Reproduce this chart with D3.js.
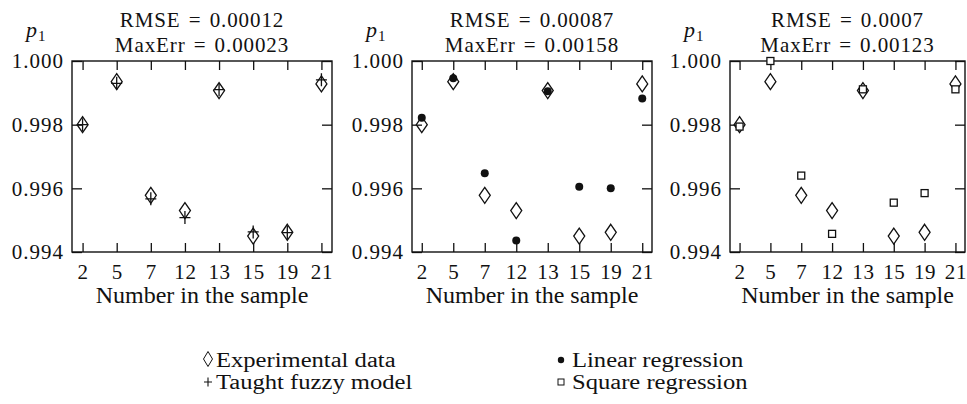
<!DOCTYPE html>
<html>
<head>
<meta charset="utf-8">
<script src="https://cdn.jsdelivr.net/npm/d3@7"></script>
<style>
  body { margin: 0; background: #fff; }
  svg text { font-family: "Liberation Serif", "DejaVu Serif", serif !important; fill: #111; }
</style>
</head>
<body>
<div id="chart"></div>
<script>
// sample numbers on the x axis
var samples = ["2", "5", "7", "12", "13", "15", "19", "21"];
var yTicks = [0.994, 0.996, 0.998, 1.000];

// values
var experimental = [0.9980, 0.99935, 0.99578, 0.99530, 0.99907, 0.99450, 0.99462, 0.99928];
var fuzzyModel   = [0.9980, 0.99930, 0.99567, 0.99508, 0.99910, 0.99463, 0.99461, 0.99941];
var linearReg    = [0.99822, 0.99946, 0.99647, 0.99436, 0.99905, 0.99605, 0.99600, 0.99882];
var squareReg    = [0.99794, 1.00000, 0.99640, 0.99457, 0.99911, 0.99555, 0.99585, 0.99911];

var rmseLabels   = ["RMSE = 0.00012", "RMSE = 0.00087", "RMSE = 0.0007"];
var maxErrLabels = ["MaxErr = 0.00023", "MaxErr = 0.00158", "MaxErr = 0.00123"];
var modelSeries  = ["fuzzy", "linear", "square"];

var W = 967, H = 404;
var plotTop = 61, plotBottom = 252;
var boxLeft = [72, 412, 730],
    boxRight = [332, 652, 965];
var serif = '"Liberation Serif", "DejaVu Serif", serif';

var svg = d3.select("#chart")
  .append("svg")
    .attr("width", W)
    .attr("height", H)
    .style("font-family", serif);

var y = d3.scaleLinear()
    .domain([0.994, 1.000])
    .range([plotBottom, plotTop]);

function diamond(g, cx, cy, hw, hh, sw) {
  g.append("path")
    .attr("d", "M" + cx + "," + (cy - hh) + "L" + (cx + hw) + "," + cy +
               "L" + cx + "," + (cy + hh) + "L" + (cx - hw) + "," + cy + "Z")
    .attr("fill", "none")
    .attr("stroke", "#111")
    .attr("stroke-width", sw);
}
function plus(g, cx, cy, hw, hh, sw) {
  g.append("path")
    .attr("d", "M" + (cx - hw) + "," + cy + "H" + (cx + hw) + "M" + cx + "," + (cy - hh) + "V" + (cy + hh))
    .attr("stroke", "#111")
    .attr("stroke-width", sw);
}
function dot(g, cx, cy, r) {
  g.append("circle").attr("cx", cx).attr("cy", cy).attr("r", r).attr("fill", "#111");
}
function square(g, cx, cy, s, sw) {
  g.append("rect")
    .attr("x", cx - s / 2).attr("y", cy - s / 2)
    .attr("width", s).attr("height", s)
    .attr("fill", "#fff")
    .attr("stroke", "#111")
    .attr("stroke-width", sw);
}

function drawPanel(i) {
  var x0 = boxLeft[i], x1 = boxRight[i];
  var g = svg.append("g");
  var x = d3.scalePoint()
      .domain(samples)
      .range([x0, x1])
      .padding(0.31);
  var cx = (x0 + x1) / 2;

  // inward ticks: bottom/top and left/right
  g.append("g")
    .attr("transform", "translate(0," + plotBottom + ")")
    .call(d3.axisBottom(x).tickSizeInner(-9).tickSizeOuter(0).tickPadding(12))
    .call(a => a.select(".domain").remove())
    .attr("font-family", serif)
    .selectAll("text")
      .style("font-size", "21px")
      .style("letter-spacing", "0.6px");
  g.append("g")
    .attr("transform", "translate(0," + plotTop + ")")
    .call(d3.axisTop(x).tickSizeInner(-9).tickSizeOuter(0).tickFormat(""))
    .call(a => a.select(".domain").remove());
  g.append("g")
    .attr("transform", "translate(" + x0 + ",0)")
    .call(d3.axisLeft(y).tickValues(yTicks).tickFormat(d3.format(".3f"))
      .tickSizeInner(-10).tickSizeOuter(0).tickPadding(8))
    .call(a => a.select(".domain").remove())
    .attr("font-family", serif)
    .selectAll("text")
      .style("font-size", "21px")
      .style("letter-spacing", "1px");
  g.append("g")
    .attr("transform", "translate(" + x1 + ",0)")
    .call(d3.axisRight(y).tickValues(yTicks).tickFormat("").tickSizeInner(-10).tickSizeOuter(0))
    .call(a => a.select(".domain").remove());

  g.selectAll(".tick line").attr("stroke", "#111").attr("stroke-width", 1.3);
  g.selectAll(".tick text").attr("fill", "#111");

  // frame
  g.append("rect")
    .attr("x", x0).attr("y", plotTop)
    .attr("width", x1 - x0).attr("height", plotBottom - plotTop)
    .attr("fill", "none")
    .attr("stroke", "#111")
    .attr("stroke-width", 1.4);

  // titles
  g.append("text").attr("x", cx).attr("y", 27).attr("text-anchor", "middle")
    .style("font-size", "21px").style("letter-spacing", "0.9px").style("word-spacing", "2px")
    .text(rmseLabels[i]);
  g.append("text").attr("x", cx).attr("y", 52).attr("text-anchor", "middle")
    .style("font-size", "21px").style("letter-spacing", "0.9px").style("word-spacing", "2px")
    .text(maxErrLabels[i]);

  // y label p1
  var pl = g.append("text").attr("x", x0 - 46).attr("y", 37).style("font-size", "22px");
  pl.append("tspan").style("font-style", "italic").text("p");
  pl.append("tspan").attr("dy", 4).attr("dx", 1).style("font-size", "15px").text("1");

  // x axis title
  g.append("text").attr("x", cx).attr("y", 303).attr("text-anchor", "middle")
    .style("font-size", "24px")
    .text("Number in the sample");

  var pts = g.append("g");
  samples.forEach(function(s, j) {
    var px = x(s);
    if (modelSeries[i] === "fuzzy") plus(pts, px, y(fuzzyModel[j]), 5.5, 6.5, 1.3);
    diamond(pts, px, y(experimental[j]), 5.5, 8, 1.3);
    if (modelSeries[i] === "linear") dot(pts, px, y(linearReg[j]), 4);
    if (modelSeries[i] === "square") square(pts, px, y(squareReg[j]), 7, 1.3);
  });
}

[0, 1, 2].forEach(drawPanel);

// legend
var leg = svg.append("g");
var legItems = [
  {label: "Experimental data", mx: 208, tx: 216, by: 367, kind: "diamond"},
  {label: "Taught fuzzy model", mx: 208, tx: 216, by: 389, kind: "plus"},
  {label: "Linear regression", mx: 561, tx: 572, by: 367, kind: "dot"},
  {label: "Square regression", mx: 561, tx: 572, by: 389, kind: "square"}
];
legItems.forEach(function(d) {
  var my = d.by - 7;
  if (d.kind === "diamond") diamond(leg, d.mx, my - 1, 4.5, 7.5, 1);
  if (d.kind === "plus") plus(leg, d.mx, my, 4, 4.5, 1.1);
  if (d.kind === "dot") dot(leg, d.mx, my, 3.2);
  if (d.kind === "square") square(leg, d.mx, my, 6, 1);
  leg.append("g")
    .attr("transform", "translate(" + d.tx + "," + d.by + ") scale(1.23,1)")
    .append("text")
      .style("font-size", "20px")
      .text(d.label);
});
</script>
</body>
</html>
